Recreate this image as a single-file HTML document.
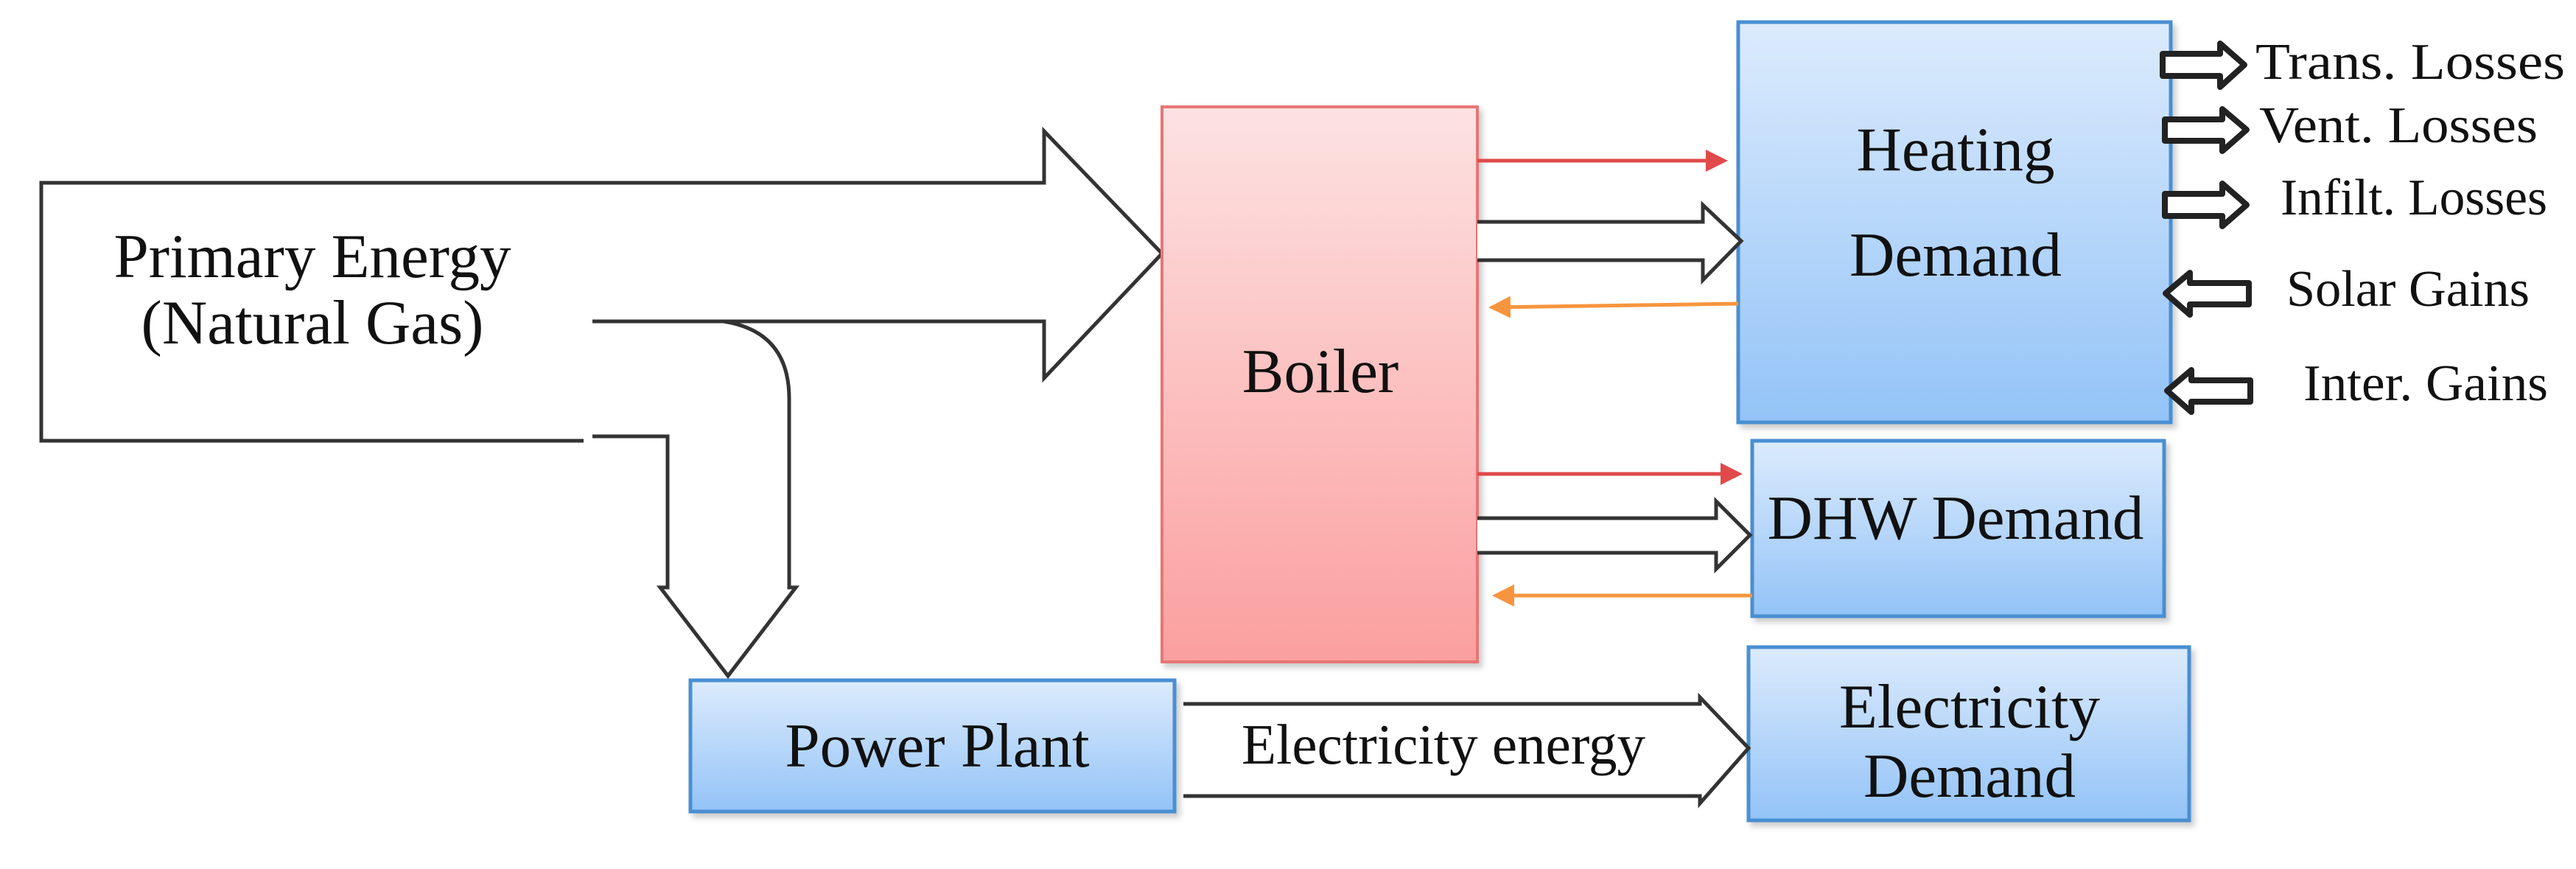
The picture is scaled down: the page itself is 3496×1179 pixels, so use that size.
<!DOCTYPE html>
<html><head><meta charset="utf-8"><style>html,body{margin:0;padding:0;background:#fff}svg{display:block}</style></head>
<body>
<svg width="3496" height="1179" viewBox="0 0 3496 1179" xmlns="http://www.w3.org/2000/svg" font-family="'Liberation Serif', serif">
<defs>
<linearGradient id="pink" x1="0" y1="0" x2="0" y2="1"><stop offset="0" stop-color="#fde2e2"/><stop offset="1" stop-color="#fb9f9f"/></linearGradient>
<linearGradient id="blue" x1="0" y1="0" x2="0" y2="1"><stop offset="0" stop-color="#dcebfd"/><stop offset="1" stop-color="#93c3f7"/></linearGradient>
<marker id="rh" markerWidth="6" markerHeight="6" refX="5" refY="3" orient="auto" markerUnits="strokeWidth"><path d="M0,0 L6,3 L0,6 z" fill="#e04a4a"/></marker>
<marker id="oh" markerWidth="6" markerHeight="6" refX="5" refY="3" orient="auto" markerUnits="strokeWidth"><path d="M0,0 L6,3 L0,6 z" fill="#f7953e"/></marker>
<filter id="sh" x="-5%" y="-5%" width="115%" height="115%"><feDropShadow dx="5" dy="6" stdDeviation="4" flood-color="#000" flood-opacity="0.2"/></filter>
</defs>
<g fill="none" stroke="#333" stroke-width="5">
<path d="M804,436 L1417,436 L1417,513 L1577,344 L1417,178 L1417,248 L56,248 L56,598 L792,598" fill="#fff"/>
<path d="M804,592 L906,592 L906,797 L896,797 L988,917 L1080,797 L1071,797 L1071,541 Q1071,450 982,436"/>
</g>
<text x="424" y="376" font-size="85" text-anchor="middle" fill="#111">Primary Energy</text>
<text x="424" y="466" font-size="85" text-anchor="middle" fill="#111">(Natural Gas)</text>

<rect x="1577" y="145" width="428" height="753" fill="url(#pink)" stroke="#e87474" stroke-width="4" filter="url(#sh)"/>
<text x="1792" y="532" font-size="85" text-anchor="middle" fill="#111">Boiler</text>
<rect x="2359" y="30" width="587" height="543" fill="url(#blue)" stroke="#4a8fd2" stroke-width="5" filter="url(#sh)"/>
<text x="2654" y="231" font-size="85" text-anchor="middle" fill="#111">Heating</text>
<text x="2654" y="374" font-size="85" text-anchor="middle" fill="#111">Demand</text>
<rect x="2378" y="598" width="559" height="238" fill="url(#blue)" stroke="#4a8fd2" stroke-width="5" filter="url(#sh)"/>
<text x="2654" y="731" font-size="85" text-anchor="middle" fill="#111">DHW Demand</text>
<rect x="2373" y="878" width="598" height="235" fill="url(#blue)" stroke="#4a8fd2" stroke-width="5" filter="url(#sh)"/>
<text x="2673" y="987" font-size="85" text-anchor="middle" fill="#111">Electricity</text>
<text x="2673" y="1081" font-size="85" text-anchor="middle" fill="#111">Demand</text>
<rect x="937" y="923" width="657" height="178" fill="url(#blue)" stroke="#4a8fd2" stroke-width="5" filter="url(#sh)"/>
<text x="1272" y="1040" font-size="85" text-anchor="middle" fill="#111">Power Plant</text>

<line x1="2005" y1="218" x2="2340" y2="218" stroke="#e04a4a" stroke-width="5" marker-end="url(#rh)"/>
<line x1="2359" y1="412" x2="2025" y2="417" stroke="#f7953e" stroke-width="5" marker-end="url(#oh)"/>
<path d="M2005,301 L2311,301 L2311,278 L2363,327 L2311,380 L2311,353 L2005,353" fill="#fff" stroke="#333" stroke-width="5"/>
<line x1="2005" y1="643" x2="2360" y2="643" stroke="#e04a4a" stroke-width="5" marker-end="url(#rh)"/>
<line x1="2378" y1="808" x2="2030" y2="808" stroke="#f7953e" stroke-width="5" marker-end="url(#oh)"/>
<path d="M2005,703 L2329,703 L2329,680 L2375,726 L2329,772 L2329,750 L2005,750" fill="#fff" stroke="#333" stroke-width="5"/>

<path d="M1606,955 L2307,955 L2307,946 L2373,1015 L2307,1090 L2307,1080 L1606,1080" fill="#fff" stroke="#333" stroke-width="5"/>
<text x="1959" y="1036" font-size="77" text-anchor="middle" fill="#111">Electricity energy</text>

<g fill="#fff" stroke="#222" stroke-width="8" stroke-linejoin="round">
<path d="M2935,73 L3013,73 L3013,59 L3046,88 L3013,118 L3013,103 L2935,103 z"/>
<path d="M2938,162 L3016,162 L3016,148 L3049,176 L3016,205 L3016,191 L2938,191 z"/>
<path d="M2938,263 L3016,263 L3016,249 L3049,278 L3016,307 L3016,293 L2938,293 z"/>
<path d="M3052,384 L2972,384 L2972,370 L2939,398 L2972,427 L2972,413 L3052,413 z"/>
<path d="M3054,516 L2974,516 L2974,502 L2941,530 L2974,559 L2974,545 L3054,545 z"/>
</g>
<g font-size="70" fill="#111">
<text x="3061" y="107" textLength="420" lengthAdjust="spacingAndGlyphs">Trans. Losses</text>
<text x="3066" y="193" textLength="378" lengthAdjust="spacingAndGlyphs">Vent. Losses</text>
<text x="3095" y="291" textLength="362" lengthAdjust="spacingAndGlyphs">Infilt. Losses</text>
<text x="3103" y="415" textLength="330" lengthAdjust="spacingAndGlyphs">Solar Gains</text>
<text x="3126" y="543" textLength="332" lengthAdjust="spacingAndGlyphs">Inter. Gains</text>
</g>
</svg>
</body></html>
